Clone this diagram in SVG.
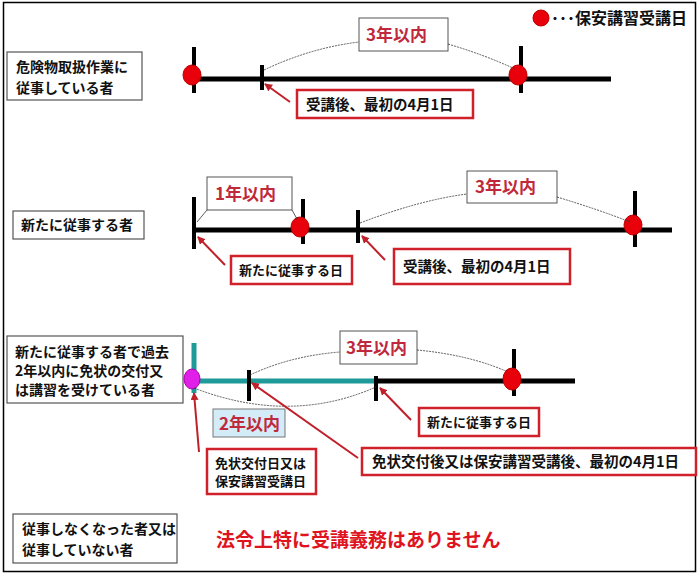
<svg xmlns="http://www.w3.org/2000/svg" width="699" height="575" viewBox="0 0 699 575">
<style>
text{font-family:"Noto Sans CJK JP","Noto Sans",sans-serif;font-weight:bold;}
.lbl{fill:#fff;stroke:#555;stroke-width:1.2}
.lt{font-size:14px;fill:#111}
.yb{fill:#fff;stroke:#555;stroke-width:1}
.yt{font-size:17px;fill:#c0283c}
.rb{fill:#fff;stroke:#d0202a;stroke-width:2.5}
.rt{font-size:14.5px;fill:#111}
.rs{font-size:13px;fill:#111}
.bl{stroke:#000;stroke-width:5}
.tk{stroke:#000;stroke-width:4}
.tl{stroke:#1e9a98;stroke-width:5}
.dot{fill:#e8000a;stroke:#b00;stroke-width:1}
.cv{fill:none;stroke:#333;stroke-width:0.8;stroke-dasharray:2 1}
.ar{stroke:#c0202a;stroke-width:2;marker-end:url(#ah)}
</style>
<defs><marker id="ah" markerWidth="8" markerHeight="8" refX="7" refY="4" orient="auto" markerUnits="userSpaceOnUse"><path d="M0,0 L8,4 L0,8 z" fill="#c0202a"/></marker></defs>
<rect x="0" y="0" width="699" height="575" fill="#fff"/>
<rect x="3.5" y="2.5" width="692" height="569" fill="none" stroke="#000" stroke-width="1.5"/>
<g id="legend"><circle cx="541" cy="18" r="8" class="dot"/><text x="551" y="24" font-size="16" fill="#111">･･･保安講習受講日</text></g>
<g id="row1">
<rect class="lbl" x="7" y="52" width="135" height="48"/>
<text class="lt" x="16" y="72">危険物取扱作業に</text><text class="lt" x="16" y="93">従事している者</text>
<line class="bl" x1="192" y1="79" x2="611" y2="79"/>
<line class="tk" x1="194" y1="47" x2="194" y2="93"/><line class="tk" x1="262" y1="65" x2="262" y2="90"/><line class="tk" x1="521" y1="46" x2="521" y2="93"/>
<ellipse class="dot" cx="192" cy="75" rx="9" ry="10"/><ellipse class="dot" cx="518" cy="75" rx="9" ry="10"/>
<rect class="yb" x="359" y="18" width="89" height="33"/><text class="yt" x="366" y="41">3年以内</text>
<rect class="rb" x="297" y="90" width="176" height="28"/><text class="rt" x="306" y="110">受講後、最初の4月1日</text>
</g>
<g id="row2">
<rect class="lbl" x="13" y="211" width="131" height="28"/><text class="lt" x="21" y="230">新たに従事する者</text>
<line class="bl" x1="193" y1="230" x2="672" y2="230"/>
<line class="tk" x1="194" y1="197" x2="194" y2="249"/><line class="tk" x1="303" y1="199" x2="303" y2="244"/><line class="tk" x1="358" y1="210" x2="358" y2="243"/><line class="tk" x1="635" y1="191" x2="635" y2="247"/>
<ellipse class="dot" cx="300" cy="227" rx="9" ry="10"/><ellipse class="dot" cx="633" cy="225" rx="9" ry="10"/>
<rect class="yb" x="207" y="177" width="85" height="33"/><text class="yt" x="215" y="200">1年以内</text>
<rect class="yb" x="467" y="171" width="90" height="32"/><text class="yt" x="475" y="193">3年以内</text>
<rect class="rb" x="231" y="256" width="121" height="28"/><text class="rs" x="239" y="275">新たに従事する日</text>
<rect class="rb" x="394" y="249" width="176" height="35"/><text class="rt" x="403" y="272">受講後、最初の4月1日</text>
</g>
<g id="row3">
<rect class="lbl" x="7" y="336" width="176" height="67"/>
<text class="lt" x="15" y="357">新たに従事する者で過去</text><text class="lt" x="15" y="376">2年以内に免状の交付又</text><text class="lt" x="15" y="395">は講習を受けている者</text>
<line class="tl" x1="194" y1="343" x2="194" y2="393"/>
<line class="tl" x1="194" y1="381" x2="377" y2="381"/>
<line class="bl" x1="377" y1="381" x2="575" y2="381"/>
<line class="tk" x1="249" y1="370" x2="249" y2="401"/><line class="tk" x1="376" y1="376" x2="376" y2="401"/><line class="tk" x1="514" y1="349" x2="514" y2="396"/>
<ellipse cx="192" cy="379" rx="8" ry="10" fill="#e020e8" stroke="#a0a" stroke-width="1"/>
<ellipse class="dot" cx="512" cy="379" rx="9" ry="11"/>
<rect class="yb" x="340" y="331" width="77" height="33"/><text class="yt" x="346" y="354">3年以内</text>
<rect x="213" y="409" width="72" height="28" fill="#d4ecf8" stroke="#777" stroke-width="1"/><text class="yt" x="219" y="430">2年以内</text>
<rect class="rb" x="419" y="408" width="120" height="28"/><text class="rs" x="427" y="427">新たに従事する日</text>
<rect class="rb" x="362" y="448" width="334" height="27"/><text class="rt" x="372" y="467">免状交付後又は保安講習受講後、最初の4月1日</text>
<rect class="rb" x="207" y="449" width="109" height="45"/><text class="rs" x="215" y="468">免状交付日又は</text><text class="rs" x="215" y="486">保安講習受講日</text>
</g>
<g id="row4">
<rect class="lbl" x="13" y="514" width="164" height="49"/>
<text class="lt" x="22" y="534">従事しなくなった者又は</text><text class="lt" x="22" y="555">従事していない者</text>
<text x="216" y="547" font-size="19" fill="#e0141e">法令上特に受講義務はありません</text>
</g>
<g id="connectors">
<path class="cv" d="M264,70 Q310,48 359,42"/><path class="cv" d="M448,44 Q485,55 515,69"/>
<line x1="207" y1="210" x2="197" y2="222" stroke="#333" stroke-width="0.8"/><line x1="292" y1="210" x2="297" y2="219" stroke="#333" stroke-width="0.8"/>
<path class="cv" d="M360,223 Q420,200 467,194"/><path class="cv" d="M557,197 Q600,210 630,222"/>
<path class="cv" d="M250,375 Q290,356 340,352"/><path class="cv" d="M417,350 Q470,355 508,372"/>
<path class="cv" d="M194,388 Q290,425 376,387"/>
<line class="ar" x1="290" y1="102" x2="265" y2="84"/>
<line class="ar" x1="225" y1="265" x2="198" y2="237"/>
<line class="ar" x1="385" y1="260" x2="362" y2="236"/>
<line class="ar" x1="199" y1="452" x2="194" y2="393"/>
<line class="ar" x1="358" y1="458" x2="252" y2="383"/>
<line class="ar" x1="411" y1="420" x2="380" y2="388"/>
</g>
</svg>
